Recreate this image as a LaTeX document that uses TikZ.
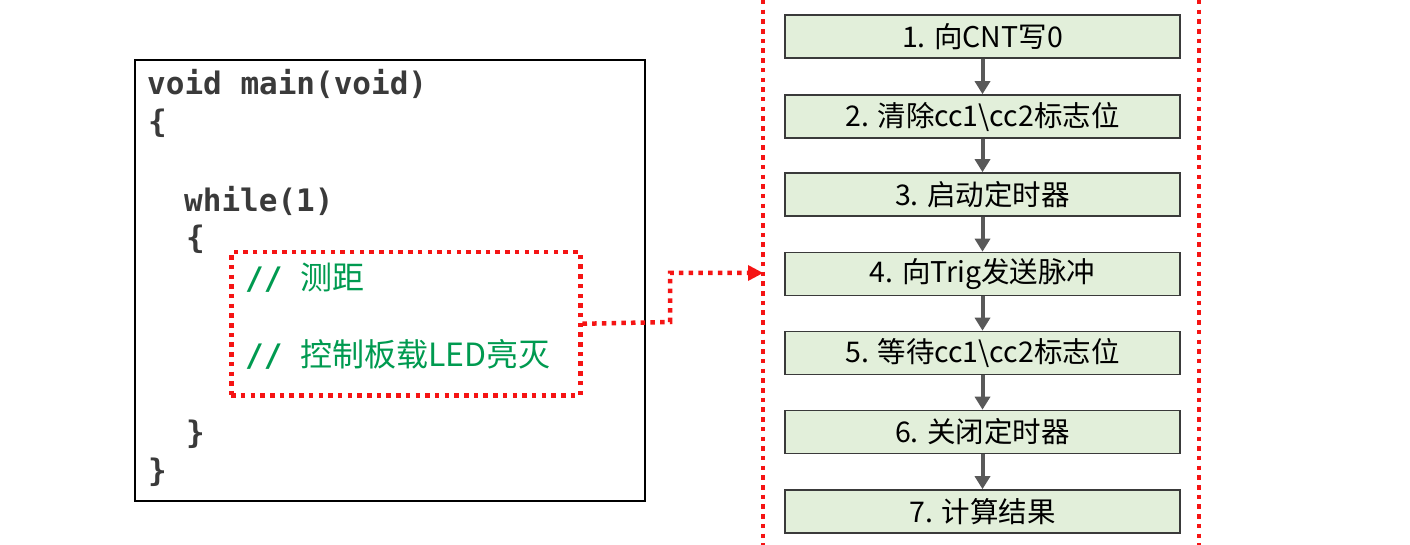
\documentclass[tikz,border=0pt]{standalone}
\usepackage{fontspec}
\usetikzlibrary{arrows.meta}
\newfontfamily\monof{DejaVu Sans Mono Bold}
\newfontfamily\cjkf{Noto Sans CJK SC}
\definecolor{codegray}{HTML}{3A3A3A}
\definecolor{cmtgreen}{HTML}{009A50}
\definecolor{boxfill}{HTML}{E2EFDA}
\definecolor{boxline}{HTML}{3A3A3A}
\definecolor{arrgray}{HTML}{595959}
\definecolor{dotred}{HTML}{F51414}
\tikzset{
  codeline/.style={anchor=base west, inner sep=0pt, text=codegray, font=\monof\fontsize{31}{31}\selectfont},
  cmtline/.style={anchor=base west, inner sep=0pt, text=cmtgreen, font=\monof\fontsize{31}{31}\selectfont},
  flowbox/.style={draw=boxline, line width=1.6pt, fill=boxfill, minimum width=395pt, minimum height=43pt, inner sep=0pt, font=\cjkf\fontsize{28.5}{28.5}\selectfont, text=black},
  flowarrow/.style={draw=arrgray, line width=4pt, -{Triangle[width=15pt,length=13pt]}},
  reddot/.style={draw=dotred, line width=4.5pt, dash pattern=on 4.5pt off 5.2pt},
}
\begin{document}
\begin{tikzpicture}[x=1pt,y=-1pt]
\useasboundingbox (0,0) rectangle (1410,545);
% code box
\node[draw=black, line width=1.8pt, minimum width=510pt, minimum height=441pt, inner sep=0pt, anchor=north west] (code) at (134,59) {};
\node[codeline] (l1) at (147,95) {void main(void)};
\node[codeline] (l2) at (148,133) {\{};
\node[codeline] (l3) at (184,212) {while(1)};
\node[codeline] (l4) at (186,249) {\{};
\node[cmtline] (c1) at (245,289) {//{\cjkf\fontsize{32}{32}\selectfont\hspace{0.55em}测距}};
\node[cmtline] (c2) at (245,366) {//{\cjkf\fontsize{32}{32}\selectfont\hspace{0.55em}控制板载LED亮灭}};
\node[codeline] (l5) at (186,443) {\}};
\node[codeline] (l6) at (148,481) {\}};
% red dotted highlight
\node[reddot, minimum width=349pt, minimum height=143pt, inner sep=0pt, anchor=north west] (hl) at (229,250) {};
% vertical dotted lines
\coordinate (vlt) at (763,0);
\coordinate (vlb) at (763,545);
\coordinate (vrt) at (1199,0);
\coordinate (vrb) at (1199,545);
\draw[reddot] (vlt) -- (vlb);
\draw[reddot] (vrt) -- (vrb);
\coordinate (tgt) at (763,273);
\draw[reddot] (hl.east) -- (670,322) -- (670,273) -- ([xshift=-13pt]tgt);
\fill[dotred] (tgt) -- ++(-15,-8) -- ++(0,16) -- cycle;
% flowchart
\node[flowbox] (b1) at (982.5,36.5) {1. 向CNT写0};
\node[flowbox] (b2) at (982.5,116.5) {2. 清除cc1\textbackslash cc2标志位};
\node[flowbox] (b3) at (982.5,194.5) {3. 启动定时器};
\node[flowbox] (b4) at (982.5,274) {4. 向Trig发送脉冲};
\node[flowbox] (b5) at (982.5,353) {5. 等待cc1\textbackslash cc2标志位};
\node[flowbox] (b6) at (982.5,432) {6. 关闭定时器};
\node[flowbox] (b7) at (982.5,511.5) {7. 计算结果};
\draw[flowarrow] (b1) -- (b2);
\draw[flowarrow] (b2) -- (b3);
\draw[flowarrow] (b3) -- (b4);
\draw[flowarrow] (b4) -- (b5);
\draw[flowarrow] (b5) -- (b6);
\draw[flowarrow] (b6) -- (b7);
\end{tikzpicture}
\end{document}
